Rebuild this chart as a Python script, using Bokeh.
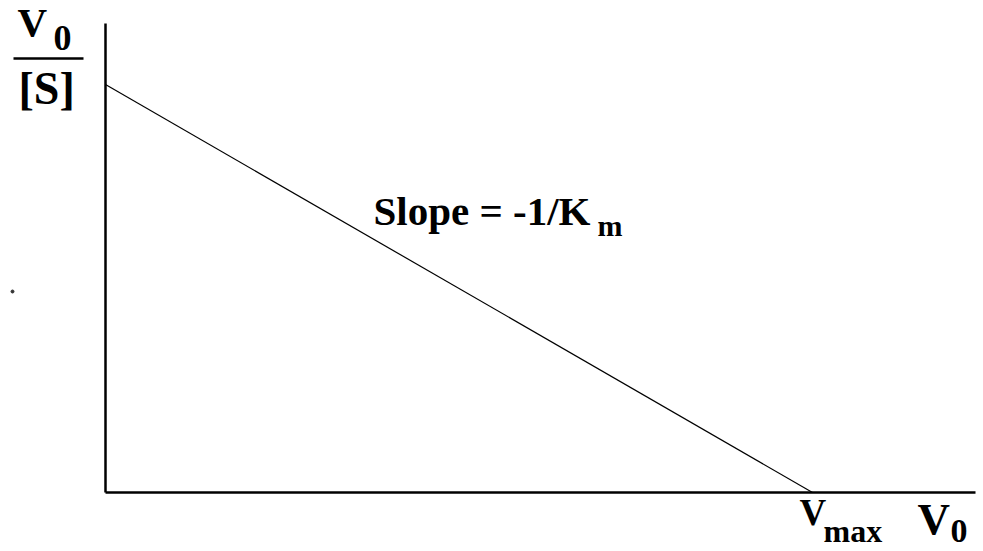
from bokeh.plotting import figure
from bokeh.models import Range1d, ColumnDataSource
from bokeh.core.properties import value
from bokeh.embed import file_html
from bokeh.resources import INLINE

# Eadie-Hofstee plot: V0/[S] against V0, a straight line with slope -1/Km
v0 = [0.0, 10.0]          # V0 from 0 to Vmax
v0_over_s = [5.0, 0.0]    # V0/[S] from Vmax/Km down to 0
vmax = v0[1]

W, H = 983, 551
# pixel placement of the origin and of the scale
ORIGIN_PX = (105, 492)
X_SCALE = 70.7   # px per unit of V0
Y_SCALE = 81.6   # px per unit of V0/[S]


def dx(px):
    return (px - ORIGIN_PX[0]) / X_SCALE


def dy(py):
    return (ORIGIN_PX[1] - py) / Y_SCALE


p = figure(width=W, height=H, output_backend="svg", toolbar_location=None,
           x_range=Range1d(dx(0), dx(W)), y_range=Range1d(dy(H), dy(0)),
           min_border=0)
p.axis.visible = False
p.grid.visible = False
p.outline_line_color = None
p.background_fill_color = "white"
p.border_fill_color = "white"

# axes drawn as plain lines from the origin
y_axis_top = dy(23)
x_axis_end = dx(975)
p.line([0, 0], [y_axis_top, 0], line_color="black", line_width=2.5)
p.line([0, x_axis_end], [0, 0], line_color="black", line_width=2.5)

# the data line
src = ColumnDataSource(dict(x=v0, y=v0_over_s))
p.line("x", "y", source=src, line_color="black", line_width=1.2)

# small stray dot left of the y axis
p.scatter([dx(12)], [dy(291)], size=3, color="#333333")

FONT = value("Liberation Serif")
BASELINE_FIX = 0.4  # text box sits this many ems below the requested baseline


def label(px, py, txt, size):
    p.text(x=[dx(px)], y=[dy(py - BASELINE_FIX * size)], text=[txt],
           text_font=FONT, text_font_style="bold",
           text_font_size=f"{size}px", text_color="black",
           text_align="left", text_baseline="alphabetic")


# y-axis title: V0 over [S]
label(17, 38, "V", 41)
label(53, 52, "0", 36)
p.line([dx(13), dx(83)], [dy(58), dy(58)], line_color="black", line_width=2.5)
label(18, 106, "[S]", 46)

# slope annotation
label(373, 227, "Slope = -1/K", 41)
label(597, 237, "m", 30)

# Vmax tick label on the x axis
label(799, 527, "V", 37)
label(823, 543, "max", 32)

# x-axis title
label(917, 536, "V", 45)
label(950, 544, "0", 34)

open("out.html", "w").write(file_html(p, INLINE))
